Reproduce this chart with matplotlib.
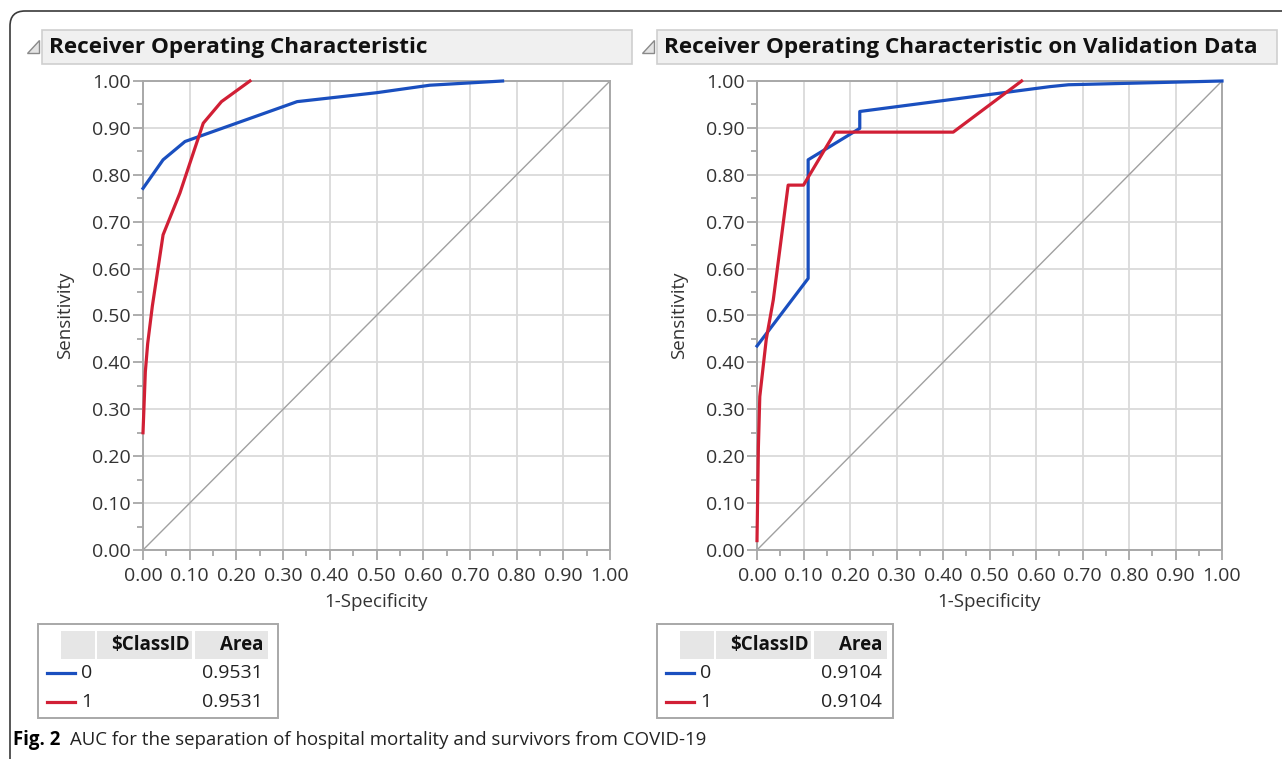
import matplotlib

matplotlib.use("Agg")
import matplotlib.pyplot as plt
from matplotlib.patches import Rectangle, Polygon, PathPatch
from matplotlib.path import Path
from matplotlib.ticker import MultipleLocator, FormatStrFormatter

plt.rcParams["font.family"] = ["Open Sans", "DejaVu Sans"]

# training ROC
train_fpr_0 = [0.0, 0.043, 0.09, 0.33, 0.50, 0.614, 0.77]
train_tpr_0 = [0.771, 0.832, 0.871, 0.956, 0.975, 0.991, 1.0]
train_fpr_1 = [0.0, 0.005, 0.01, 0.02, 0.043, 0.079, 0.129, 0.168, 0.229]
train_tpr_1 = [0.25, 0.38, 0.44, 0.52, 0.672, 0.761, 0.910, 0.956, 1.0]

# validation ROC (right panel)
val_fpr_0 = [0.0, 0.11, 0.11, 0.221, 0.221, 0.63, 0.67, 1.0]
val_tpr_0 = [0.435, 0.579, 0.832, 0.899, 0.935, 0.988, 0.992, 1.0]
val_fpr_1 = [0.0, 0.003, 0.006, 0.02, 0.035, 0.049, 0.067, 0.10, 0.168, 0.422, 0.569]
val_tpr_1 = [0.02, 0.22, 0.327, 0.45, 0.533, 0.64, 0.778, 0.778, 0.891, 0.891, 1.0]

titles = ["Receiver Operating Characteristic",
          "Receiver Operating Characteristic on Validation Data"]
auc = ["0.9531", "0.9104"]
class_ids = ["0", "1"]
caption_bold = "Fig. 2"
caption = "AUC for the separation of hospital mortality and survivors from COVID-19"

BLUE = "#1a4fbf"
RED = "#d11f35"
W, H = 1282, 759

fig = plt.figure(figsize=(W / 100, H / 100), dpi=100)


def px_axes(x0, x1, y0, y1):
    return fig.add_axes([x0 / W, 1 - y1 / H, (x1 - x0) / W, (y1 - y0) / H])


def style(ax):
    ax.set_xlim(0, 1)
    ax.set_ylim(0, 1)
    ax.xaxis.set_major_locator(MultipleLocator(0.1))
    ax.yaxis.set_major_locator(MultipleLocator(0.1))
    ax.xaxis.set_minor_locator(MultipleLocator(0.05))
    ax.yaxis.set_minor_locator(MultipleLocator(0.05))
    ax.xaxis.set_major_formatter(FormatStrFormatter("%.2f"))
    ax.yaxis.set_major_formatter(FormatStrFormatter("%.2f"))
    ax.grid(True, which="major", color="#dadada", lw=1.3)
    ax.set_axisbelow(True)
    for s in ax.spines.values():
        s.set_color("#a8a8a8")
        s.set_linewidth(1.4)
    ax.tick_params(which="major", length=7, width=1.2, color="#a0a0a0",
                   labelsize=14, labelcolor="#333333", pad=2)
    ax.tick_params(axis="x", which="major", pad=5)
    ax.tick_params(which="minor", length=4, width=1.2, color="#a0a0a0")
    ax.plot([0, 1], [0, 1], color="#a0a0a0", lw=1.0, zorder=2)
    ax.set_xlabel("1-Specificity", fontsize=13.5, color="#333333", labelpad=6)
    ax.set_ylabel("Sensitivity", fontsize=13.5, color="#333333", labelpad=13)


ax1 = px_axes(143, 610, 81, 550)
style(ax1)
ax1.plot(train_fpr_0, train_tpr_0, color=BLUE, lw=2.3, zorder=3, clip_on=False)
ax1.plot(train_fpr_1, train_tpr_1, color=RED, lw=2.3, zorder=3, clip_on=False)

ax2 = px_axes(757, 1222, 81, 550)
style(ax2)
ax2.plot(val_fpr_0, val_tpr_0, color=BLUE, lw=2.3, zorder=3, clip_on=False)
ax2.plot(val_fpr_1, val_tpr_1, color=RED, lw=2.3, zorder=3, clip_on=False)

# overlay in pixel coordinates for headers, tables, frame, caption
ov = fig.add_axes([0, 0, 1, 1], zorder=-1)
ov.set_xlim(0, W)
ov.set_ylim(H, 0)
ov.axis("off")

frame = Path([(10, 759), (10, 26), (10, 11), (25, 11), (W, 11)],
             [Path.MOVETO, Path.LINETO, Path.CURVE3, Path.CURVE3, Path.LINETO])
ov.add_patch(PathPatch(frame, fill=False, ec="#3a3a3a", lw=1.2))

for (hx0, hx1), title in zip([(42, 632), (657, 1277)], titles):
    ov.add_patch(Rectangle((hx0, 30), hx1 - hx0, 34, fc="#f0f0f0", ec="#cfcfcf", lw=1.2))
    ov.add_patch(Polygon([(hx0 - 3, 40), (hx0 - 3, 53), (hx0 - 15, 53)],
                         closed=True, fc="#e4e4e4", ec="#8a8a8a", lw=1.0))
    ov.text(hx0 + 7, 47, title, fontsize=16.2, fontweight="bold", color="#111111",
            va="center", ha="left")

for tx, area in zip([38, 657], auc):
    ov.add_patch(Rectangle((tx, 624), 240 if tx == 38 else 236, 94,
                           fc="white", ec="#a8a8a8", lw=1.4))
    ov.add_patch(Rectangle((tx + 23, 631), 34, 28, fc="#e6e6e6", ec="none"))
    ov.add_patch(Rectangle((tx + 59, 631), 95, 28, fc="#e6e6e6", ec="none"))
    ov.add_patch(Rectangle((tx + 157, 631), 73, 28, fc="#e6e6e6", ec="none"))
    ov.text(tx + 112, 645, "$ClassID", fontsize=13.5, fontweight="bold", ha="center",
            va="center", color="#111111")
    ov.text(tx + 225, 645, "Area", fontsize=13.5, fontweight="bold", ha="right",
            va="center", color="#111111")
    for ry, cid, col in zip([673, 702], class_ids, [BLUE, RED]):
        ov.plot([tx + 9, tx + 37], [ry, ry], color=col, lw=2.3)
        ov.text(tx + 43, ry, cid, fontsize=14, ha="left", va="center", color="#222222")
        ov.text(tx + 225, ry, area, fontsize=14, ha="right", va="center", color="#222222")

ov.text(13, 740, caption_bold, fontsize=13.4, fontweight="bold", ha="left", va="center")
ov.text(70, 740, caption, fontsize=13.4, ha="left", va="center", color="#222222")

fig.savefig("out.png", dpi=100)
